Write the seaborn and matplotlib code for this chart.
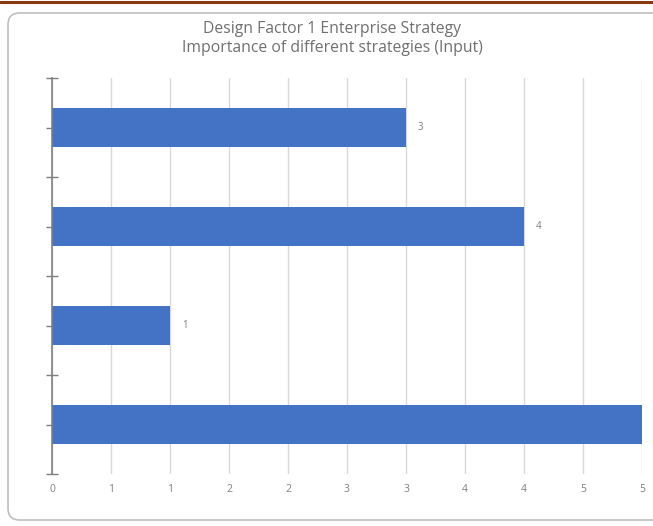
import matplotlib
matplotlib.use("Agg")
import matplotlib.pyplot as plt
from matplotlib.patches import FancyBboxPatch
from matplotlib.lines import Line2D
import seaborn as sns
import pandas as pd

# Enterprise strategy archetypes and their importance scores (top to bottom)
strategies = ["Growth/Acquisition", "Innovation/Differentiation",
              "Cost Leadership", "Client Service/Stability"]
importance = [3, 4, 1, 5]
value_labels = ["3", "4", "1", ""]
x_ticks = [0, 0.5, 1, 1.5, 2, 2.5, 3, 3.5, 4, 4.5, 5]
x_tick_labels = ["0", "1", "1", "2", "2", "3", "3", "4", "4", "5", "5"]
title_lines = ["Design Factor 1 Enterprise Strategy",
               "Importance of different strategies (Input)"]

df = pd.DataFrame({"strategy": strategies, "importance": importance})

sns.set_style("white")
plt.rcParams["font.family"] = ["Open Sans", "DejaVu Sans"]

W, H = 653, 526
fig = plt.figure(figsize=(W / 100, H / 100), dpi=100)
fig.patch.set_facecolor("white")

# Chart frame with rounded corners and the accent line above it
frame = FancyBboxPatch((8 / W, 6 / H), (W + 20 - 8) / W, (H - 13 - 6) / H,
                       boxstyle="round,pad=0,rounding_size=0.018",
                       transform=fig.transFigure, facecolor="none",
                       edgecolor="#bfbfbf", linewidth=1.2, zorder=-1,
                       mutation_aspect=W / H)
fig.add_artist(frame)
fig.add_artist(Line2D([0, 1], [1 - 1.5 / H, 1 - 1.5 / H], transform=fig.transFigure,
                      color="#8b3a0f", linewidth=2.2))

ax = fig.add_axes([52 / W, 1 - 474 / H, (642 - 52) / W, (474 - 78) / H])
ax.set_facecolor("none")

sns.barplot(data=df, y="strategy", x="importance", orient="h",
            color="#4472c4", width=0.4, saturation=1, linewidth=0,
            ax=ax, zorder=3)

ax.set_xlim(0, 5)
ax.set_ylim(3.5, -0.5)
ax.set_xlabel("")
ax.set_ylabel("")

ax.set_xticks(x_ticks)
ax.set_xticklabels(x_tick_labels, color="#7f7f7f", fontsize=7.5)
ax.tick_params(axis="x", length=0, pad=7)
ax.grid(axis="x", color="#d9d9d9", linewidth=1, zorder=0)

# Category axis: boundary ticks crossing the spine, short ticks at bar centres
ax.set_yticks([-0.5, 0.5, 1.5, 2.5, 3.5])
ax.set_yticklabels([])
ax.set_yticks(range(len(strategies)), minor=True)
ax.set_yticklabels([], minor=True)
ax.tick_params(axis="y", which="major", direction="inout", length=9,
               width=1, color="#7f7f7f", left=True)
ax.tick_params(axis="y", which="minor", direction="out", length=4,
               width=1, color="#7f7f7f", left=True)

for side in ["top", "right", "bottom"]:
    ax.spines[side].set_visible(False)
ax.spines["left"].set_color("#7f7f7f")
ax.spines["left"].set_linewidth(1.2)
ax.spines["left"].set_zorder(4)

for i, (v, lab) in enumerate(zip(importance, value_labels)):
    if lab:
        ax.annotate(lab, xy=(v, i), xytext=(8.5, 0), textcoords="offset points",
                    ha="left", va="center", fontsize=7, color="#7f7f7f")

fig.text(0.5 + 5.5 / W, 1 - 32.7 / H, title_lines[0], ha="center", va="baseline",
         fontsize=11.3, color="#707070")
fig.text(0.5 + 5.5 / W, 1 - 52.3 / H, title_lines[1], ha="center", va="baseline",
         fontsize=11.3, color="#707070")

fig.savefig("out.png", dpi=100, facecolor="white")
